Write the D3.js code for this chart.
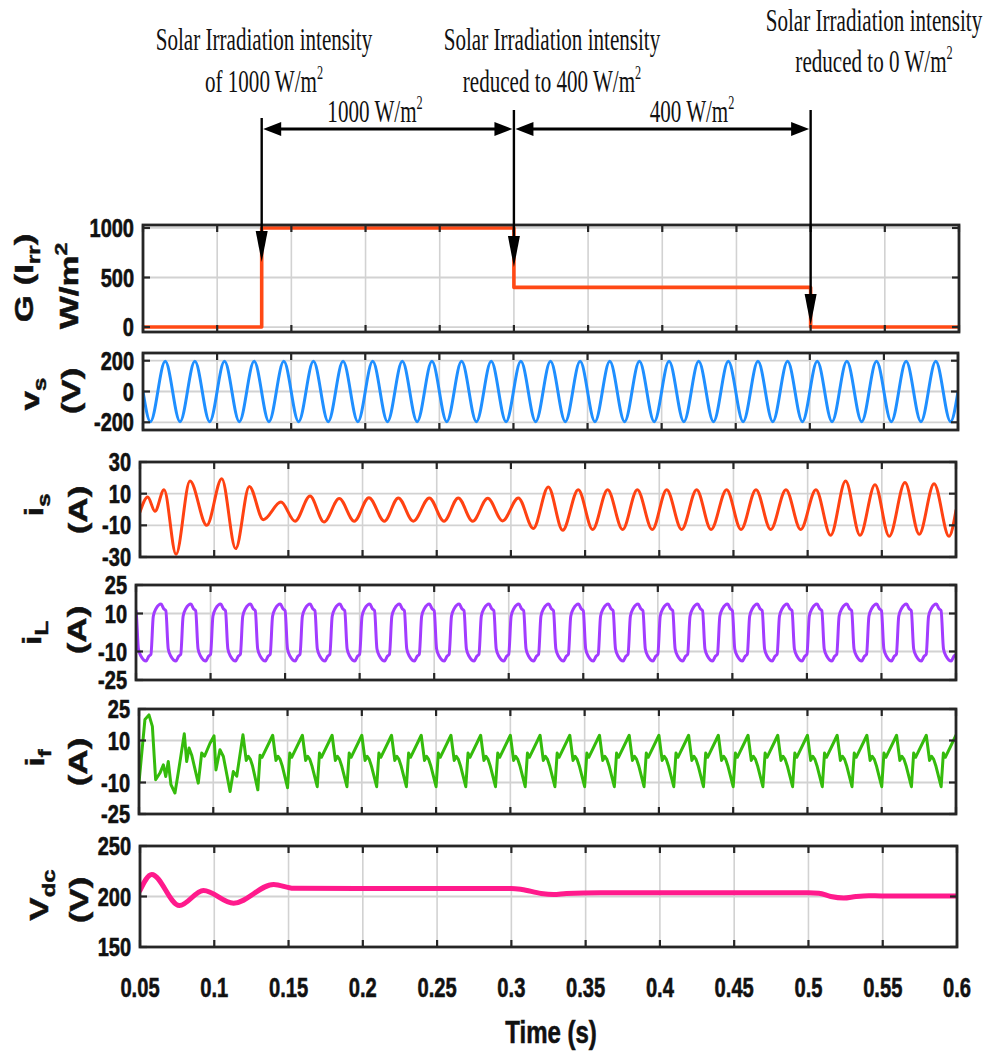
<!DOCTYPE html>
<html>
<head>
<meta charset="utf-8">
<script src="https://cdn.jsdelivr.net/npm/d3@7"></script>
<style>
  html, body { margin: 0; padding: 0; background: #fff; }
  svg { display: block; }
</style>
</head>
<body>
<svg id="chart" width="988" height="1060"></svg>
<script>
// ---------------- data ----------------
const timeTicks = [0.05, 0.1, 0.15, 0.2, 0.25, 0.3, 0.35, 0.4, 0.45, 0.5, 0.55, 0.6];
const timeTickLabels = ["0.05", "0.1", "0.15", "0.2", "0.25", "0.3", "0.35", "0.4", "0.45", "0.5", "0.55", "0.6"];

// Solar irradiation steps [time s, W/m^2]
const irradiance = [[0.05, 0], [0.13, 1000], [0.3, 400], [0.5, 0], [0.6, 0]];
const irradianceTicks = [0, 500, 1000];

// Grid voltage v_s: zero crossings and crest values [time s, V]
const vsPoints = [
  [0.05, 0], [0.055, -196], [0.065, 196], [0.075, -196], [0.085, 196], [0.095, -196], [0.105, 196],
  [0.115, -196], [0.125, 196], [0.135, -196], [0.145, 196], [0.155, -196], [0.165, 196], [0.175, -196],
  [0.185, 196], [0.195, -196], [0.205, 196], [0.215, -196], [0.225, 196], [0.235, -196], [0.245, 196],
  [0.255, -196], [0.265, 196], [0.275, -196], [0.285, 196], [0.295, -196], [0.305, 196], [0.315, -196],
  [0.325, 196], [0.335, -196], [0.345, 196], [0.355, -196], [0.365, 196], [0.375, -196], [0.385, 196],
  [0.395, -196], [0.405, 196], [0.415, -196], [0.425, 196], [0.435, -196], [0.445, 196], [0.455, -196],
  [0.465, 196], [0.475, -196], [0.485, 196], [0.495, -196], [0.505, 196], [0.515, -196], [0.525, 196],
  [0.535, -196], [0.545, 196], [0.555, -196], [0.565, 196], [0.575, -196], [0.585, 196], [0.595, -196],
  [0.6, 0]
];
const vsTicks = [-200, 0, 200];

// Source current i_s: local extrema [time s, A]
const isPoints = [
  [0.05, -1.6], [0.0552, 7.9], [0.0601, -1.1], [0.0662, 12.5], [0.0743, -28.3], [0.0837, 18],
  [0.095, -10], [0.1051, 19.5], [0.1145, -24.7], [0.1237, 14.6], [0.1331, -6.4], [0.145, 4.7],
  [0.1545, -7.4], [0.1646, 8.5], [0.174, -7.9], [0.1843, 6.9], [0.1944, -7.4], [0.2043, 7.5],
  [0.2147, -7.4], [0.2241, 7.3], [0.2342, -7.4], [0.245, 7.3], [0.2549, -7.4], [0.2645, 7.3],
  [0.2742, -7.4], [0.2844, 7.1], [0.2944, -7.2], [0.305, 7.3], [0.3151, -12], [0.3252, 14.2],
  [0.3349, -13.1], [0.3454, 12.5], [0.3551, -12.7], [0.3652, 12.5], [0.3753, -12.7], [0.3852, 12.5],
  [0.3953, -12.7], [0.405, 12.5], [0.4151, -12.7], [0.4252, 12.5], [0.4349, -12.7], [0.4454, 12.5],
  [0.4551, -12.7], [0.4652, 12.5], [0.4751, -12.7], [0.4854, 12.5], [0.4953, -12.7], [0.5056, 12.5],
  [0.5155, -16.3], [0.5256, 18], [0.5353, -16.3], [0.5454, 15.7], [0.555, -16.9], [0.5656, 17],
  [0.5752, -15.6], [0.5852, 16.3], [0.5953, -16.9], [0.6, -0.5]
];
const isTicks = [-30, -10, 10, 30];

// Load current i_L: one row per mains cycle, sampled at fixed offsets (ms) from the cycle start
const iLCycleStarts = [0.04, 0.06, 0.08, 0.1, 0.12, 0.14, 0.16, 0.18, 0.2, 0.22, 0.24, 0.26, 0.28, 0.3,
  0.32, 0.34, 0.36, 0.38, 0.4, 0.42, 0.44, 0.46, 0.48, 0.5, 0.52, 0.54, 0.56, 0.58];
const iLOffsetsMs = [0, 1.6, 3.4, 6.8, 8.6, 10, 11.6, 13.4, 16.8, 18.6];
const iLCycleValues = [
  [-11.5, 8.5, 12.5, 15, 12.5, 11.5, -8.5, -12.5, -15, -12.5],
  [-11.5, 8.5, 12.5, 15, 12.5, 11.5, -8.5, -12.5, -15, -12.5],
  [-11.5, 8.5, 12.5, 15, 12.5, 11.5, -8.5, -12.5, -15, -12.5],
  [-11.5, 8.5, 12.5, 15, 12.5, 11.5, -8.5, -12.5, -15, -12.5],
  [-11.5, 8.5, 12.5, 15, 12.5, 11.5, -8.5, -12.5, -15, -12.5],
  [-11.5, 8.5, 12.5, 15, 12.5, 11.5, -8.5, -12.5, -15, -12.5],
  [-11.5, 8.5, 12.5, 15, 12.5, 11.5, -8.5, -12.5, -15, -12.5],
  [-11.5, 8.5, 12.5, 15, 12.5, 11.5, -8.5, -12.5, -15, -12.5],
  [-11.5, 8.5, 12.5, 15, 12.5, 11.5, -8.5, -12.5, -15, -12.5],
  [-11.5, 8.5, 12.5, 15, 12.5, 11.5, -8.5, -12.5, -15, -12.5],
  [-11.5, 8.5, 12.5, 15, 12.5, 11.5, -8.5, -12.5, -15, -12.5],
  [-11.5, 8.5, 12.5, 15, 12.5, 11.5, -8.5, -12.5, -15, -12.5],
  [-11.5, 8.5, 12.5, 15, 12.5, 11.5, -8.5, -12.5, -15, -12.5],
  [-11.5, 8.5, 12.5, 15, 12.5, 11.5, -8.5, -12.5, -15, -12.5],
  [-11.5, 8.5, 12.5, 15, 12.5, 11.5, -8.5, -12.5, -15, -12.5],
  [-11.5, 8.5, 12.5, 15, 12.5, 11.5, -8.5, -12.5, -15, -12.5],
  [-11.5, 8.5, 12.5, 15, 12.5, 11.5, -8.5, -12.5, -15, -12.5],
  [-11.5, 8.5, 12.5, 15, 12.5, 11.5, -8.5, -12.5, -15, -12.5],
  [-11.5, 8.5, 12.5, 15, 12.5, 11.5, -8.5, -12.5, -15, -12.5],
  [-11.5, 8.5, 12.5, 15, 12.5, 11.5, -8.5, -12.5, -15, -12.5],
  [-11.5, 8.5, 12.5, 15, 12.5, 11.5, -8.5, -12.5, -15, -12.5],
  [-11.5, 8.5, 12.5, 15, 12.5, 11.5, -8.5, -12.5, -15, -12.5],
  [-11.5, 8.5, 12.5, 15, 12.5, 11.5, -8.5, -12.5, -15, -12.5],
  [-11.5, 8.5, 12.5, 15, 12.5, 11.5, -8.5, -12.5, -15, -12.5],
  [-11.5, 8.5, 12.5, 15, 12.5, 11.5, -8.5, -12.5, -15, -12.5],
  [-11.5, 8.5, 12.5, 15, 12.5, 11.5, -8.5, -12.5, -15, -12.5],
  [-11.5, 8.5, 12.5, 15, 12.5, 11.5, -8.5, -12.5, -15, -12.5],
  [-11.5, 8.5, 12.5, 15, 12.5, 11.5, -8.5, -12.5, -15, -12.5]
];
const iLEnd = [[0.6, -11.5]];
const iLTicks = [-25, -10, 10, 25];

// Compensator current i_f: start-up transient [time s, A]
const ifTransient = [
  [0.05, -10], [0.054, 20], [0.0567, 22.2], [0.059, 16.7], [0.0612, -8.7], [0.0641, -5.5],
  [0.0664, -1.6], [0.068, -7.1], [0.0697, 0], [0.0715, -11], [0.0742, -15], [0.0765, -5],
  [0.0805, 13.2], [0.0821, 0], [0.0837, 6.4], [0.0855, 3], [0.0899, -10.3], [0.0922, 4],
  [0.0941, 2.5], [0.0978, 8.7], [0.1005, 12.2], [0.1018, -4], [0.1045, 5.6], [0.1068, 2.4],
  [0.1113, -14.3], [0.1135, -4.8], [0.1158, -7]
];
// i_f in steady operation: one row per cycle, sampled at fixed offsets (ms) from each crest
const ifCycleStarts = [0.12, 0.14, 0.16, 0.18, 0.2, 0.22, 0.24, 0.26, 0.28, 0.3, 0.32, 0.34,
  0.36, 0.38, 0.4, 0.42, 0.44, 0.46, 0.48, 0.5, 0.52, 0.54, 0.56, 0.58];
const ifOffsetsMs = [0, 2.2, 3.6, 5.0, 6.4, 10.0, 11.5, 12.8];
const ifCycleValues = [
  [12.7, 0.5, 2.5, 1, -2, -13.5, 3, 2],
  [12.5, 0.5, 2.5, 1, -2, -12.5, 4, 2],
  [12.5, 0.5, 2.5, 1, -2, -12, 4, 2],
  [12.5, 0.5, 2.5, 1, -2, -12, 4, 2],
  [12.5, 0.5, 2.5, 1, -2, -12, 4, 2],
  [12.5, 0.5, 2.5, 1, -2, -12, 4, 2],
  [12.5, 0.5, 2.5, 1, -2, -12, 4, 2],
  [12.5, 0.5, 2.5, 1, -2, -12, 4, 2],
  [12.5, 0.5, 2.5, 1, -2, -12, 4, 2],
  [12.5, 0.5, 2.5, 1, -2, -12, 4, 2],
  [12.5, 0.5, 2.5, 1, -2, -12, 4, 2],
  [12.5, 0.5, 2.5, 1, -2, -12, 4, 2],
  [12.5, 0.5, 2.5, 1, -2, -12, 4, 2],
  [12.5, 0.5, 2.5, 1, -2, -12, 4, 2],
  [12.5, 0.5, 2.5, 1, -2, -12, 4, 2],
  [12.5, 0.5, 2.5, 1, -2, -12, 4, 2],
  [12.5, 0.5, 2.5, 1, -2, -12, 4, 2],
  [12.5, 0.5, 2.5, 1, -2, -12, 4, 2],
  [12.5, 0.5, 2.5, 1, -2, -12, 4, 2],
  [12.5, 0.5, 2.5, 1, -2, -12, 4, 2],
  [12.5, 0.5, 2.5, 1, -2, -12, 4, 2],
  [12.5, 0.5, 2.5, 1, -2, -12, 4, 2],
  [12.5, 0.5, 2.5, 1, -2, -12, 4, 2],
  [12.5, 0.5, 2.5, 1, -2, -12, 4, 2]
];
const ifEnd = [[0.6, 12.5]];
const ifTicks = [-25, -10, 10, 25];

// DC-link voltage [time s, V]
const vdcPoints = [
  [0.05, 206], [0.0579, 221.8], [0.0765, 191], [0.0927, 206], [0.113, 193.4], [0.14, 212],
  [0.1534, 208.2], [0.2, 208], [0.25, 208], [0.3, 208], [0.307, 207], [0.32, 203], [0.3284, 202],
  [0.337, 203], [0.36, 203.8], [0.4, 203.8], [0.45, 203.8], [0.5, 203.8], [0.507, 203.3],
  [0.515, 200], [0.5237, 198.5], [0.532, 200], [0.5406, 200.8], [0.549, 200.5], [0.6, 200.5]
];
const vdcTicks = [150, 200, 250];

// Irradiance change instants and annotation texts
const eventTimes = [0.13, 0.3, 0.5];
const eventNotes = [
  ["Solar Irradiation intensity", "of 1000 W/m"],
  ["Solar Irradiation intensity", "reduced to  400 W/m"],
  ["Solar Irradiation intensity", "reduced to 0 W/m"]
];
const spanNotes = ["1000 W/m", "400 W/m"];
const xAxisTitle = "Time (s)";

// ---------------- helpers ----------------
function cycleSeries(starts, offsetsMs, rows) {
  const pts = [];
  starts.forEach((t0, i) => {
    offsetsMs.forEach((o, j) => pts.push([t0 + o / 1000, rows[i][j]]));
  });
  return pts;
}

const iLPoints = cycleSeries(iLCycleStarts, iLOffsetsMs, iLCycleValues).concat(iLEnd);
const ifPoints = ifTransient.concat(cycleSeries(ifCycleStarts, ifOffsetsMs, ifCycleValues), ifEnd);

const SANS = "'Liberation Sans', Arial, Helvetica, sans-serif";
const SERIF = "'Liberation Serif', 'Times New Roman', serif";

const svg = d3.select("#chart");
svg.append("rect").attr("width", 988).attr("height", 1060).attr("fill", "#fff");

const panels = [
  { id: "g", left: 143, right: 959, top: 225, bottom: 332, domain: [-50, 1030], ticks: irradianceTicks,
    data: irradiance, color: "#ff4915", width: 3.6, curve: d3.curveStepAfter,
    title: [[["G (I"], ["rr", "sub"], [")"]], [["W/m"], ["2", "sup"]]], titleX: [33, 78], titleY: [278, 286] },
  { id: "vs", left: 143, right: 958, top: 353, bottom: 430, domain: [-250, 250], ticks: vsTicks,
    data: vsPoints, color: "#1f8fff", width: 3, curve: d3.curveMonotoneX,
    title: [[["v"], ["s", "sub"]], [["(V)"]]], titleX: [39, 80], titleY: [394, 391] },
  { id: "is", left: 140, right: 956, top: 462, bottom: 557, domain: [-30, 30], ticks: isTicks,
    data: isPoints, color: "#ff4212", width: 3, curve: d3.curveMonotoneX,
    title: [[["i"], ["s", "sub"]], [["(A)"]]], titleX: [43, 87], titleY: [505, 510] },
  { id: "il", left: 136, right: 956, top: 585, bottom: 680, domain: [-25, 25], ticks: iLTicks,
    data: iLPoints, color: "#a23cff", width: 3, curve: d3.curveMonotoneX,
    title: [[["i"], ["L", "sub"]], [["(A)"]]], titleX: [41, 86], titleY: [633, 630] },
  { id: "if", left: 139, right: 956, top: 709, bottom: 814, domain: [-25, 25], ticks: ifTicks,
    data: ifPoints, color: "#35bb0c", width: 3, curve: d3.curveLinear,
    title: [[["i"], ["f", "sub"]], [["(A)"]]], titleX: [44, 87], titleY: [758, 762] },
  { id: "vdc", left: 140, right: 957, top: 846, bottom: 947, domain: [150, 250], ticks: vdcTicks,
    data: vdcPoints, color: "#ff1a8c", width: 5, curve: d3.curveMonotoneX,
    title: [[["V"], ["dc", "sub"]], [["(V)"]]], titleX: [48, 88], titleY: [895, 900] }
];

// lettering is drawn horizontally condensed
function squeezed(parent, x, y, sx, extra) {
  return parent.append("text")
    .attr("transform", `translate(${x},${y}) scale(${sx},1)` + (extra || ""));
}
function boldSans(sel, size) {
  return sel.style("font-family", SANS).style("font-weight", "bold").style("font-size", size + "px")
    .attr("fill", "#111").attr("stroke", "#111").attr("stroke-width", 0.6);
}

let xLast = null;

panels.forEach(p => {
  const x = d3.scaleLinear().domain([0.05, 0.6]).range([p.left, p.right]);
  const y = d3.scaleLinear().domain(p.domain).range([p.bottom, p.top]);
  xLast = x;
  const g = svg.append("g").attr("class", "panel-" + p.id);

  g.append("rect").attr("x", p.left).attr("y", p.top)
    .attr("width", p.right - p.left).attr("height", p.bottom - p.top).attr("fill", "#fff");

  // grid
  g.append("g").selectAll("line").data(timeTicks).join("line")
    .attr("x1", d => x(d)).attr("x2", d => x(d)).attr("y1", p.top).attr("y2", p.bottom)
    .attr("stroke", "#d2d2d2").attr("stroke-width", 1.6);
  g.append("g").selectAll("line").data(p.ticks).join("line")
    .attr("x1", p.left).attr("x2", p.right).attr("y1", d => y(d)).attr("y2", d => y(d))
    .attr("stroke", "#d2d2d2").attr("stroke-width", 1.8);

  // trace
  const clipId = "clip-" + p.id;
  g.append("clipPath").attr("id", clipId).append("rect")
    .attr("x", p.left).attr("y", p.top - 2).attr("width", p.right - p.left).attr("height", p.bottom - p.top + 4);
  const line = d3.line().x(d => x(d[0])).y(d => y(d[1])).curve(p.curve);
  g.append("path").datum(p.data).attr("d", line)
    .attr("clip-path", `url(#${clipId})`)
    .attr("fill", "none").attr("stroke", p.color).attr("stroke-width", p.width)
    .attr("stroke-linejoin", "round").attr("stroke-linecap", "round");

  // frame
  g.append("rect").attr("x", p.left).attr("y", p.top)
    .attr("width", p.right - p.left).attr("height", p.bottom - p.top)
    .attr("fill", "none").attr("stroke", "#262626").attr("stroke-width", 2.8);

  // inward ticks
  const tk = g.append("g").attr("stroke", "#262626").attr("stroke-width", 2.2);
  timeTicks.forEach(t => {
    tk.append("line").attr("x1", x(t)).attr("x2", x(t)).attr("y1", p.top).attr("y2", p.top + 7);
    tk.append("line").attr("x1", x(t)).attr("x2", x(t)).attr("y1", p.bottom).attr("y2", p.bottom - 7);
  });
  p.ticks.forEach(v => {
    tk.append("line").attr("x1", p.left).attr("x2", p.left + 7).attr("y1", y(v)).attr("y2", y(v));
    tk.append("line").attr("x1", p.right).attr("x2", p.right - 7).attr("y1", y(v)).attr("y2", y(v));
  });

  // y tick labels
  p.ticks.forEach(v => {
    boldSans(squeezed(g, p.left - 9, y(v) + 9, 0.8), 25)
      .attr("text-anchor", "end").text(v);
  });

  // axis title (two rotated lines)
  p.title.forEach((parts, li) => {
    const t = boldSans(squeezed(g, p.titleX[li], p.titleY[li], 0.75, " rotate(-90)"), 35)
      .attr("text-anchor", "middle");
    let shift = 0;
    parts.forEach(([s, kind]) => {
      const ts = t.append("tspan").text(s);
      let target = 0;
      if (kind === "sub") { target = 9; ts.style("font-size", "24px"); }
      if (kind === "sup") { target = -15; ts.style("font-size", "23px"); }
      if (target !== shift) { ts.attr("dy", target - shift); shift = target; }
    });
  });
});

// x axis labels (bottom panel)
timeTicks.forEach((t, i) => {
  boldSans(squeezed(svg, xLast(t), 997, 0.72), 28)
    .attr("text-anchor", "middle").text(timeTickLabels[i]);
});
boldSans(squeezed(svg, 551, 1043, 0.75), 32)
  .attr("text-anchor", "middle").text(xAxisTitle);

// ---------------- irradiance annotations ----------------
const xTop = d3.scaleLinear().domain([0.05, 0.6]).range([panels[0].left, panels[0].right]);
const ann = svg.append("g").attr("class", "annotations");

function noteText(x, y, str, withSup) {
  const t = squeezed(ann, x, y, 0.68).attr("text-anchor", "middle")
    .style("font-family", SERIF).style("font-size", "31px").attr("fill", "#111");
  t.append("tspan").text(str);
  if (withSup) t.append("tspan").attr("dy", -13).style("font-size", "18px").text("2");
  return t;
}

const noteCenters = [264, 552, 874];
const noteBaselines = [[50, 92], [50, 92], [31, 72]];
eventNotes.forEach((lines, i) => {
  noteText(noteCenters[i], noteBaselines[i][0], lines[0], false);
  noteText(noteCenters[i], noteBaselines[i][1], lines[1], true);
});

// vertical arrows down to the irradiance trace
const arrowTop = [118, 110, 110];
const arrowTip = [262, 267, 325];
eventTimes.forEach((t, i) => {
  const xx = xTop(t);
  ann.append("line").attr("x1", xx).attr("x2", xx).attr("y1", arrowTop[i]).attr("y2", arrowTip[i] - 20)
    .attr("stroke", "#000").attr("stroke-width", 2.4);
  ann.append("path")
    .attr("d", `M${xx - 6},${arrowTip[i] - 31}L${xx + 6},${arrowTip[i] - 31}L${xx},${arrowTip[i]}Z`)
    .attr("fill", "#000");
});

// horizontal span arrows
const spanY = 129;
[[eventTimes[0], eventTimes[1]], [eventTimes[1], eventTimes[2]]].forEach(([a, b], i) => {
  const xa = xTop(a) + 1.5, xb = xTop(b) - 1.5;
  ann.append("line").attr("x1", xa + 10).attr("x2", xb - 10).attr("y1", spanY).attr("y2", spanY)
    .attr("stroke", "#000").attr("stroke-width", 3);
  ann.append("path").attr("d", `M${xa},${spanY}L${xa + 18},${spanY - 7}L${xa + 18},${spanY + 7}Z`).attr("fill", "#000");
  ann.append("path").attr("d", `M${xb},${spanY}L${xb - 18},${spanY - 7}L${xb - 18},${spanY + 7}Z`).attr("fill", "#000");
  noteText([375, 692][i], 122, spanNotes[i], true);
});
</script>
</body>
</html>
